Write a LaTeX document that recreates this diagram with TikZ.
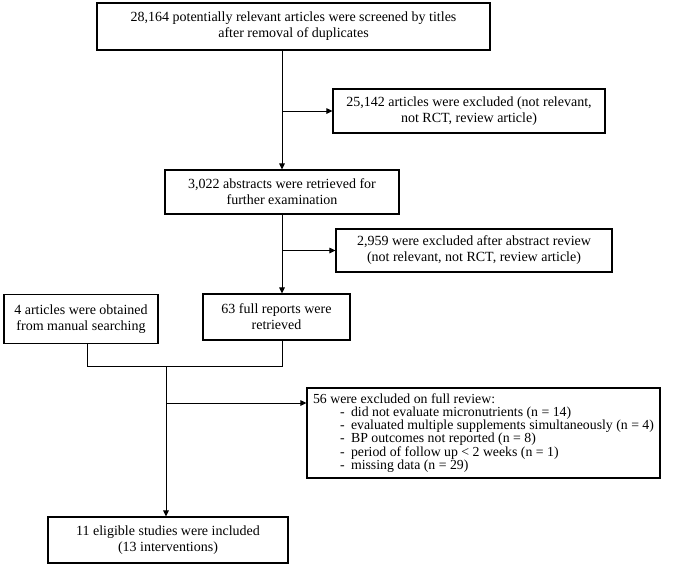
\documentclass[tikz,border=0pt]{standalone}
\usepackage{fontspec}
\setmainfont{Liberation Serif}
\usetikzlibrary{arrows.meta}
\begin{document}
\begin{tikzpicture}[x=1pt,y=-1pt,
  box/.style={draw=black, line width=1.1pt, align=center, inner sep=2pt,
    font=\fontsize{14}{16}\selectfont},
  conn/.style={line width=1pt},
  arr/.style={conn, -{Triangle[length=6pt,width=5.5pt]}}]
\useasboundingbox (0,0) rectangle (685,566);
\node[box, minimum width=393, minimum height=47] (b1) at (293.5,26.5)
  {28,164 potentially relevant articles were screened by titles\\after removal of duplicates};
\node[box, minimum width=272, minimum height=44] (b2) at (469,111)
  {25,142 articles were excluded (not relevant,\\not RCT, review article)};
\node[box, minimum width=234, minimum height=44] (b3) at (282,192)
  {3,022 abstracts were retrieved for\\further examination};
\node[box, minimum width=276, minimum height=43] (b4) at (474,250.5)
  {2,959 were excluded after abstract review\\(not relevant, not RCT, review article)};
\node[box, minimum width=154, minimum height=49] (b5) at (81,319)
  {4 articles were obtained\\from manual searching};
\node[box, minimum width=147, minimum height=46] (b6) at (276.5,317)
  {63 full reports were\\retrieved};
\node[box, minimum width=353, minimum height=90, align=left,
  font=\fontsize{13.8}{13.2}\selectfont] (b7) at (483.5,433)
  {56 were excluded on full review:\\
   \hspace*{27pt}\makebox[11pt][l]{-}did not evaluate micronutrients (n = 14)\\
   \hspace*{27pt}\makebox[11pt][l]{-}evaluated multiple supplements simultaneously (n = 4)\\
   \hspace*{27pt}\makebox[11pt][l]{-}BP outcomes not reported (n = 8)\\
   \hspace*{27pt}\makebox[11pt][l]{-}period of follow up {\textless} 2 weeks (n = 1)\\
   \hspace*{27pt}\makebox[11pt][l]{-}missing data (n = 29)};
\node[box, minimum width=240, minimum height=46] (b8) at (168,540)
  {11 eligible studies were included\\(13 interventions)};
% connectors
\coordinate (j1) at (b3.north |- b2.west);
\draw[arr] (b1.south -| b3.north) -- (b3.north);
\draw[arr] (j1) -- (b2.west);
\coordinate (j2) at (b3.south |- b4.west);
\draw[arr] (b3.south) -- (b3.south |- b6.north);
\draw[arr] (j2) -- (b4.west);
\coordinate (l1) at (87,0 |- b5.south);
\coordinate (m) at (166,366);
\draw[conn] (b5.south -| l1) -- (l1 |- m) -- (b3.south |- m) -- (b3.south |- b6.south);
\coordinate (j3) at (166,403);
\draw[arr] (m) -- (m |- b8.north);
\draw[arr] (j3) -- (j3 -| b7.west);
\end{tikzpicture}
\end{document}
